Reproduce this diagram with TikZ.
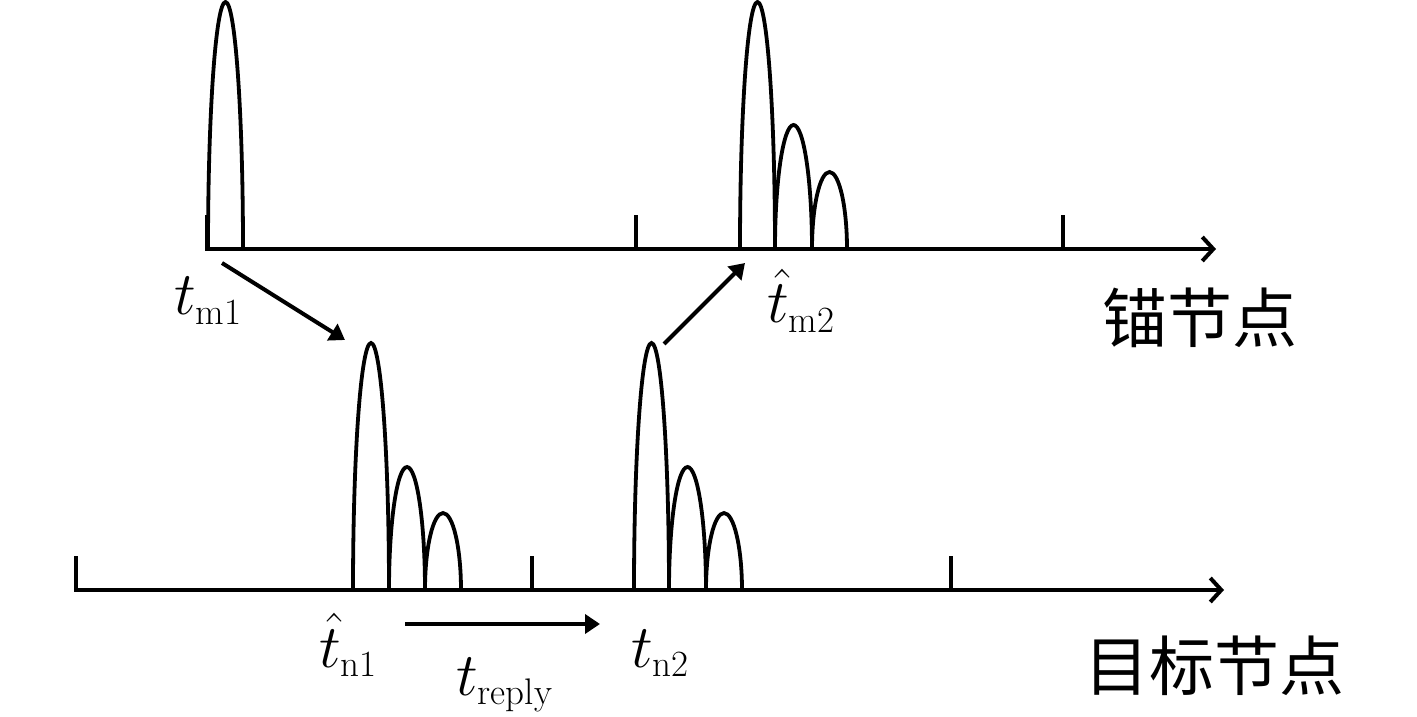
\RequirePackage{fix-cm}
\documentclass[tikz,border=0pt]{standalone}
\usepackage{fontspec}
\newfontfamily\cjkfont{Noto Sans CJK SC}
\DeclareMathSizes{61}{61}{37}{28}
\usetikzlibrary{arrows.meta}
\tikzset{
  pulse/.style={line width=3.8pt},
  axisline/.style={line width=4pt,-{Straight Barb[length=11pt,width=24pt,line width=4pt]}},
  tickline/.style={line width=3.6pt},
  sigarrow/.style={line width=4pt,-{Triangle[length=15pt,width=19pt]}},
  mlabel/.style={inner sep=0pt,anchor=base west,font=\fontsize{61}{70}\selectfont},
  cjklabel/.style={inner sep=0pt,font=\cjkfont\fontsize{65}{70}\selectfont}
}
\newcommand\pulseshape[4]{\draw[pulse] (#1,#2) arc[start angle=180,end angle=0,x radius=#3pt/2,y radius=#4pt];}
\begin{document}
\begin{tikzpicture}[x=1pt,y=1pt]
\useasboundingbox (0,0) rectangle (1417,716);
% top axis
\coordinate (topstart) at (207,501);
\coordinate (toporigin) at (207,467);
\coordinate (topend) at (1216,467);
\draw[axisline] (topstart) -- (toporigin) -- (topend);
\coordinate (tt1a) at (636,467); \coordinate (tt1b) at (636,501);
\coordinate (tt2a) at (1063,467); \coordinate (tt2b) at (1063,501);
\draw[tickline] (tt1a) -- (tt1b);
\draw[tickline] (tt2a) -- (tt2b);
% bottom axis
\coordinate (botstart) at (76,160);
\coordinate (botorigin) at (76,126);
\coordinate (botend) at (1224,126);
\draw[axisline] (botstart) -- (botorigin) -- (botend);
\coordinate (bt1a) at (532,126); \coordinate (bt1b) at (532,160);
\coordinate (bt2a) at (951,126); \coordinate (bt2b) at (951,160);
\draw[tickline] (bt1a) -- (bt1b);
\draw[tickline] (bt2a) -- (bt2b);
% pulses top
\pulseshape{208}{467}{35}{247}
\pulseshape{740}{467}{35}{247}
\pulseshape{775}{467}{37}{124}
\pulseshape{812}{467}{35}{77}
% pulses bottom
\pulseshape{353}{126}{36}{247}
\pulseshape{389}{126}{36}{123}
\pulseshape{425}{126}{36}{77}
\pulseshape{634}{126}{35}{247}
\pulseshape{669}{126}{37}{123}
\pulseshape{706}{126}{36}{77}
% labels
\node[mlabel] (tm1) at (174,401) {$t_{\mathrm{m1}}$};
\node[mlabel] (tm2) at (767,393) {$\hat{t}_{\mathrm{m2}}$};
\node[mlabel] (tn1) at (319,49) {$\hat{t}_{\mathrm{n1}}$};
\node[mlabel] (treply) at (456,21) {$t_{\mathrm{reply}}$};
\node[mlabel] (tn2) at (631,49) {$t_{\mathrm{n2}}$};
\node[cjklabel] (anchorlbl) at (1200,398) {锚节点};
\node[cjklabel] (targetlbl) at (1214,50) {目标节点};
% arrows
\coordinate (a1s) at (222,453); \coordinate (a1e) at (345,376);
\coordinate (a2s) at (664,372); \coordinate (a2e) at (745,453);
\coordinate (a3s) at (405,92); \coordinate (a3e) at (600,92);
\draw[sigarrow] (a1s) -- (a1e);
\draw[sigarrow] (a2s) -- (a2e);
\draw[sigarrow] (a3s) -- (a3e);
\end{tikzpicture}
\end{document}
